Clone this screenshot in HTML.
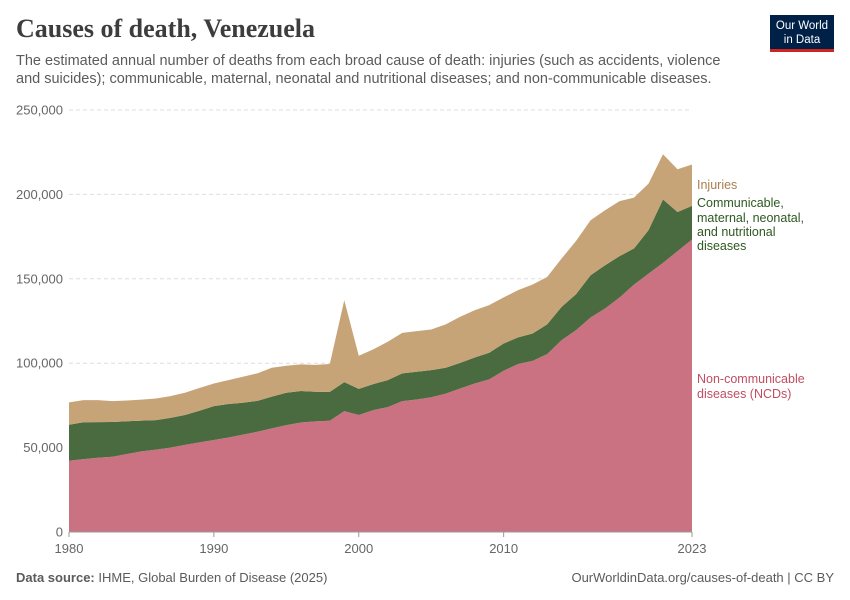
<!DOCTYPE html>
<html><head><meta charset="utf-8"><style>
body{margin:0;background:#fff;font-family:"Liberation Sans",sans-serif;}
#wrap{position:relative;width:850px;height:600px;overflow:hidden;}
.t{position:absolute;white-space:nowrap;}
</style></head><body>
<div id="wrap">
<div class="t" style="left:16px;top:14px;font-family:'Liberation Serif',serif;font-size:26px;font-weight:bold;color:#3d3d3d;">Causes of death, Venezuela</div>
<div class="t" style="left:16px;top:52px;font-size:14.5px;line-height:18px;color:#5b5b5b;white-space:normal;width:720px;">The estimated annual number of deaths from each broad cause of death: injuries (such as accidents, violence and suicides); communicable, maternal, neonatal and nutritional diseases; and non-communicable diseases.</div>
<div style="position:absolute;left:770px;top:15px;width:64px;height:37px;background:#002147;border-bottom:3px solid #ce261e;box-sizing:border-box;color:#fff;font-size:11.5px;line-height:14px;text-align:center;padding-top:4px;">Our World<br>in Data</div>
<svg id="chart" width="850" height="600" style="position:absolute;left:0;top:0"></svg>
<div class="t" style="left:16px;top:570px;font-size:13px;color:#5b5b5b;"><b>Data source:</b> IHME, Global Burden of Disease (2025)</div>
<div class="t" style="right:16px;top:570px;font-size:13px;color:#5b5b5b;">OurWorldinData.org/causes-of-death | CC BY</div>
</div>
<script>
const years=[];for(let y=1980;y<=2023;y++)years.push(y);
const ncd=[42200,43200,44000,44600,46200,47800,48800,50000,51600,53100,54500,56000,57700,59400,61400,63300,64900,65500,65900,71600,69300,72200,74000,77500,78500,79800,82000,85000,88000,90400,95500,99500,101400,105400,113700,119600,127100,132400,138900,146600,153100,159400,166400,173300];
const cmnn=[21300,21800,21100,20600,19400,18200,17500,17600,17700,18700,20100,19800,18900,18300,18800,19200,18600,17600,17100,17200,15500,15400,16000,16500,16400,16100,15300,15200,15400,15800,16200,15800,16200,17600,19700,21300,25000,25600,24500,21400,25700,37600,23200,19900];
const injuries=[13300,13100,13000,12300,12300,12400,12800,12900,13200,13500,13400,14200,15400,16300,17100,16000,15800,15900,16500,48500,19600,20600,22700,24000,24100,24100,25700,27300,28000,28200,27300,28000,29000,28100,28600,31600,32600,32600,32600,30100,27600,26800,25300,24500];
const yTicks=[0,50000,100000,150000,200000,250000];
const xTicks=[1980,1990,2000,2010,2023];
const NS="http://www.w3.org/2000/svg";
const svg=document.getElementById('chart');
const x0=69,x1=692,yb=532,yt=110,yMax=250000;
const X=v=>x0+(v-1980)/(2023-1980)*(x1-x0);
const Y=v=>yb-v/yMax*(yb-yt);
function mk(t,a){const e=document.createElementNS(NS,t);for(const k in a)e.setAttribute(k,a[k]);svg.appendChild(e);return e;}
yTicks.forEach(v=>{
 if(v>0){const g=mk('line',{x1:x0,x2:x1,y1:Y(v),y2:Y(v),stroke:'#ddd','stroke-dasharray':'4,3'});
 
 }
 const t=mk('text',{x:63,y:Y(v)+4.5,'text-anchor':'end','font-size':13,fill:'#666','font-family':'Liberation Sans, sans-serif'});
 t.textContent=v.toLocaleString('en-US');
 
 
});
const base=years.map(()=>0);
const series=[[ncd,'#ca7282','ncd-area'],[cmnn,'#496b3f','cmnn-area'],[injuries,'#c7a477','injuries-area']];
series.forEach(([vals,col,name])=>{
 const top=base.map((b,i)=>b+vals[i]);
 let d='M'+years.map((yr,i)=>X(yr)+','+Y(top[i])).join('L');
 for(let i=years.length-1;i>=0;i--)d+='L'+X(years[i])+','+Y(base[i]);
 d+='Z';
 const p=mk('path',{d:d,fill:col});
 
 
 top.forEach((v,i)=>base[i]=v);
});
const ax=mk('line',{x1:x0,x2:x1,y1:yb,y2:yb,stroke:'#999'});


xTicks.forEach(v=>{
 const tk=mk('line',{x1:X(v),x2:X(v),y1:yb,y2:yb+5,stroke:'#999'});
 
 
 const t=mk('text',{x:X(v),y:553,'text-anchor':'middle','font-size':13,fill:'#666','font-family':'Liberation Sans, sans-serif'});
 t.textContent=v;
 
 
});
const legends=[['Injuries','#a8804f',[189],'legend-injuries'],['Communicable,|maternal, neonatal,|and nutritional|diseases','#2d5820',[207,222,236,250],'legend-cmnn'],['Non-communicable|diseases (NCDs)','#c14d62',[383,398],'legend-ncd']];
legends.forEach(([txt,col,ys,name])=>{
 const t=mk('text',{x:697,'font-size':12.5,fill:col,'font-family':'Liberation Sans, sans-serif'});
 txt.split('|').forEach((s,i)=>{const ts=document.createElementNS(NS,'tspan');ts.setAttribute('x',697);ts.setAttribute('y',ys[i]);ts.textContent=s;t.appendChild(ts);});
 
 
});
</script>
</body></html>
